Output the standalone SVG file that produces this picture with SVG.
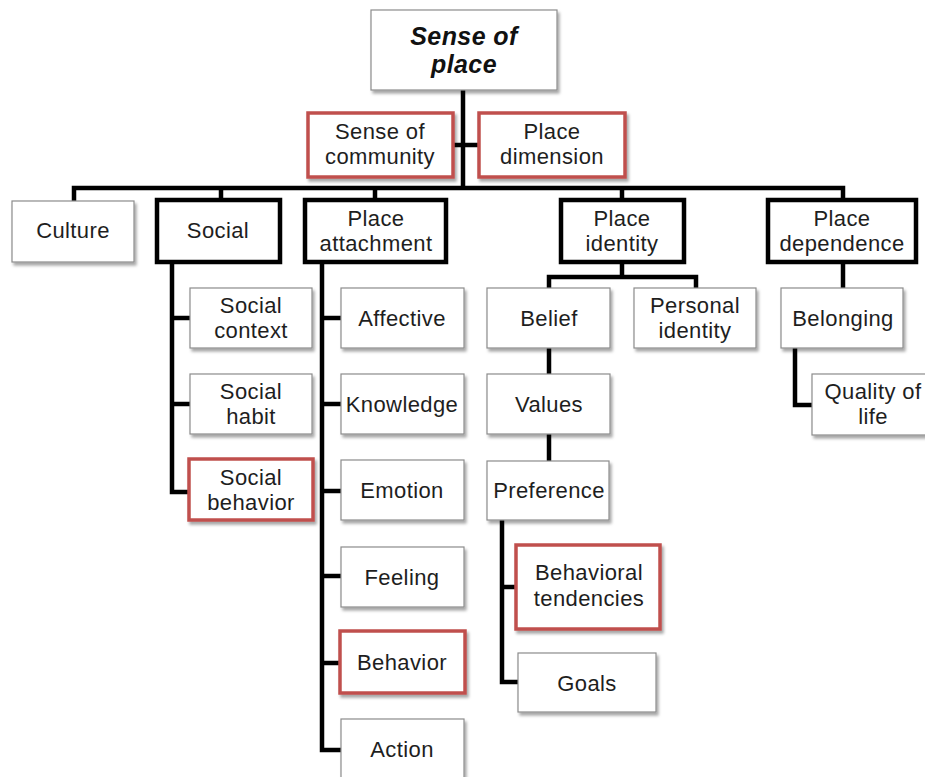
<svg xmlns="http://www.w3.org/2000/svg" width="925" height="777" viewBox="0 0 925 777">
  <defs>
    <filter id="shadow" x="-10%" y="-10%" width="130%" height="140%">
      <feDropShadow dx="2" dy="3" stdDeviation="1.6" flood-color="#000" flood-opacity="0.35"/>
    </filter>
  </defs>
  <style>
    .box { fill: #fff; stroke: #8c8c8c; stroke-width: 1.2; filter: url(#shadow); }
    .bold { fill: #fff; stroke: #000; stroke-width: 4.5; }
    .red { fill: #fff; stroke: #c0504d; stroke-width: 3.5; filter: url(#shadow); }
    .t { font-family: "Liberation Sans", Arial, sans-serif; font-size: 22px; letter-spacing: 0.4px; fill: #1e1e1e; text-anchor: middle; }
    .title { font-family: "Liberation Sans", Arial, sans-serif; font-size: 25px; font-weight: bold; font-style: italic; letter-spacing: 0.4px; fill: #111; text-anchor: middle; }
    .wire { fill: none; stroke: #000; stroke-width: 4.5; stroke-linejoin: miter; }
  </style>

  <!-- connectors -->
  <g id="connectors">
    <path class="wire" d="M463 90 V188"/>
    <path class="wire" d="M453 145 H479"/>
    <path class="wire" d="M74 201 V188 H843 V201"/>
    <path class="wire" d="M221 188 V201"/>
    <path class="wire" d="M375 188 V201"/>
    <path class="wire" d="M622 188 V201"/>
    <!-- Social branch -->
    <path class="wire" d="M172 262 V492 H190"/>
    <path class="wire" d="M172 318 H190"/>
    <path class="wire" d="M172 404 H190"/>
    <!-- Place attachment branch -->
    <path class="wire" d="M322 262 V750 H341"/>
    <path class="wire" d="M322 318 H341"/>
    <path class="wire" d="M322 404 H341"/>
    <path class="wire" d="M322 491 H341"/>
    <path class="wire" d="M322 576 H341"/>
    <path class="wire" d="M322 663 H341"/>
    <!-- Place identity branch -->
    <path class="wire" d="M622 262 V277"/>
    <path class="wire" d="M549 289 V277 H696 V289"/>
    <path class="wire" d="M549 348 V374"/>
    <path class="wire" d="M549 434 V461"/>
    <path class="wire" d="M502 520 V682 H518"/>
    <path class="wire" d="M502 587 H516"/>
    <!-- Place dependence branch -->
    <path class="wire" d="M843 262 V289"/>
    <path class="wire" d="M795 348 V405 H812"/>
  </g>

  <g id="sense-of-place">
    <rect class="box" x="371" y="10" width="186" height="80"/>
    <text class="title" x="464" y="45">Sense of</text>
    <text class="title" x="464" y="73">place</text>
  </g>

  <g id="sense-of-community">
    <rect class="red" x="308" y="113" width="145" height="64"/>
    <text class="t" x="380" y="139">Sense of</text>
    <text class="t" x="380" y="164">community</text>
  </g>
  <g id="place-dimension">
    <rect class="red" x="479" y="113" width="146" height="64"/>
    <text class="t" x="552" y="139">Place</text>
    <text class="t" x="552" y="164">dimension</text>
  </g>

  <g id="culture">
    <rect class="box" x="12" y="201" width="122" height="61"/>
    <text class="t" x="73" y="238">Culture</text>
  </g>
  <g id="social">
    <rect class="bold" x="157" y="200" width="123" height="62"/>
    <text class="t" x="218" y="238">Social</text>
  </g>
  <g id="place-attachment">
    <rect class="bold" x="305" y="200" width="141" height="62"/>
    <text class="t" x="376" y="226">Place</text>
    <text class="t" x="376" y="251">attachment</text>
  </g>
  <g id="place-identity">
    <rect class="bold" x="561" y="200" width="123" height="62"/>
    <text class="t" x="622" y="226">Place</text>
    <text class="t" x="622" y="251">identity</text>
  </g>
  <g id="place-dependence">
    <rect class="bold" x="768" y="200" width="148" height="62"/>
    <text class="t" x="842" y="226">Place</text>
    <text class="t" x="842" y="251">dependence</text>
  </g>

  <!-- Social children -->
  <g id="social-context">
    <rect class="box" x="190" y="288" width="122" height="60"/>
    <text class="t" x="251" y="313">Social</text>
    <text class="t" x="251" y="338">context</text>
  </g>
  <g id="social-habit">
    <rect class="box" x="190" y="374" width="122" height="60"/>
    <text class="t" x="251" y="399">Social</text>
    <text class="t" x="251" y="424">habit</text>
  </g>
  <g id="social-behavior">
    <rect class="red" x="189" y="459" width="124" height="61"/>
    <text class="t" x="251" y="485">Social</text>
    <text class="t" x="251" y="510">behavior</text>
  </g>

  <!-- Place attachment children -->
  <g id="affective">
    <rect class="box" x="341" y="288" width="123" height="60"/>
    <text class="t" x="402" y="326">Affective</text>
  </g>
  <g id="knowledge">
    <rect class="box" x="341" y="374" width="123" height="60"/>
    <text class="t" x="402" y="412">Knowledge</text>
  </g>
  <g id="emotion">
    <rect class="box" x="341" y="460" width="123" height="60"/>
    <text class="t" x="402" y="498">Emotion</text>
  </g>
  <g id="feeling">
    <rect class="box" x="341" y="547" width="123" height="60"/>
    <text class="t" x="402" y="585">Feeling</text>
  </g>
  <g id="behavior">
    <rect class="red" x="340" y="631" width="125" height="62"/>
    <text class="t" x="402" y="670">Behavior</text>
  </g>
  <g id="action">
    <rect class="box" x="341" y="719" width="123" height="62"/>
    <text class="t" x="402" y="757">Action</text>
  </g>

  <!-- Place identity children -->
  <g id="belief">
    <rect class="box" x="487" y="288" width="123" height="60"/>
    <text class="t" x="549" y="326">Belief</text>
  </g>
  <g id="personal-identity">
    <rect class="box" x="634" y="288" width="122" height="60"/>
    <text class="t" x="695" y="313">Personal</text>
    <text class="t" x="695" y="338">identity</text>
  </g>
  <g id="values">
    <rect class="box" x="487" y="374" width="123" height="60"/>
    <text class="t" x="549" y="412">Values</text>
  </g>
  <g id="preference">
    <rect class="box" x="487" y="461" width="122" height="59"/>
    <text class="t" x="549" y="498">Preference</text>
  </g>
  <g id="behavioral-tendencies">
    <rect class="red" x="516" y="545" width="144" height="84"/>
    <text class="t" x="589" y="580">Behavioral</text>
    <text class="t" x="589" y="606">tendencies</text>
  </g>
  <g id="goals">
    <rect class="box" x="518" y="653" width="138" height="59"/>
    <text class="t" x="587" y="691">Goals</text>
  </g>

  <!-- Place dependence children -->
  <g id="belonging">
    <rect class="box" x="781" y="288" width="122" height="60"/>
    <text class="t" x="843" y="326">Belonging</text>
  </g>
  <g id="quality-of-life">
    <rect class="box" x="812" y="374" width="122" height="61"/>
    <text class="t" x="873" y="399">Quality of</text>
    <text class="t" x="873" y="424">life</text>
  </g>
</svg>
